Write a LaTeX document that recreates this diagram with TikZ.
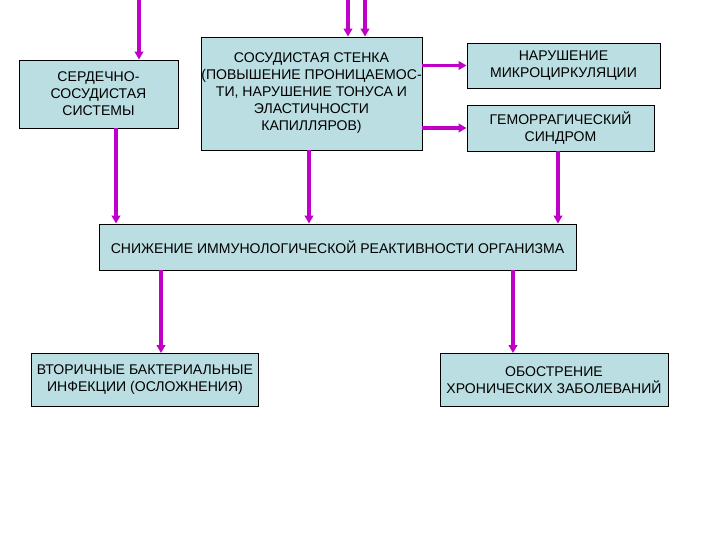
\documentclass[tikz,border=0pt]{standalone}
\usepackage{fontspec}
\setmainfont{Liberation Sans}
\usetikzlibrary{arrows.meta,positioning}
\definecolor{boxfill}{RGB}{186,222,226}
\definecolor{arrcol}{RGB}{190,0,200}

\begin{document}
\begin{tikzpicture}[
            x=0.03cm, y=-0.03cm,
            font=\fontsize{12}{14.5}\selectfont,
            box/.style={draw, thick, fill=boxfill, align=center, inner sep=0pt},
            arrow/.style={-{Triangle[length=2.4mm, width=2.6mm]}, line width=3pt, arrcol}
        ]
            \useasboundingbox (0,0) rectangle (720,540);

            \node[box, minimum width=159*0.03cm, minimum height=68*0.03cm] (cvs) at (98.5,94) {СЕРДЕЧНО-\\СОСУДИСТАЯ\\СИСТЕМЫ};
            \node[box, minimum width=221*0.03cm, minimum height=113*0.03cm] (wall) at (311.5,93.5) {СОСУДИСТАЯ СТЕНКА\\(ПОВЫШЕНИЕ ПРОНИЦАЕМОС-\\ТИ, НАРУШЕНИЕ ТОНУСА И\\ЭЛАСТИЧНОСТИ\\КАПИЛЛЯРОВ)};
            \node[box, minimum width=193*0.03cm, minimum height=45*0.03cm] (micro) at (563.5,65.5) {НАРУШЕНИЕ\\МИКРОЦИРКУЛЯЦИИ};
            \node[box, minimum width=187*0.03cm, minimum height=46*0.03cm] (hemo) at (560.5,128) {ГЕМОРРАГИЧЕСКИЙ\\СИНДРОМ};
            \node[box, minimum width=477*0.03cm, minimum height=46*0.03cm] (immun) at (337.5,247) {СНИЖЕНИЕ ИММУНОЛОГИЧЕСКОЙ РЕАКТИВНОСТИ ОРГАНИЗМА};
            \node[box, minimum width=227*0.03cm, minimum height=53*0.03cm] (infect) at (145,380) {ВТОРИЧНЫЕ БАКТЕРИАЛЬНЫЕ\\ИНФЕКЦИИ (ОСЛОЖНЕНИЯ)};
            \node[box, minimum width=228*0.03cm, minimum height=53*0.03cm] (chron) at (554,380) {ОБОСТРЕНИЕ\\ХРОНИЧЕСКИХ ЗАБОЛЕВАНИЙ};

            % free ends at the top edge
            \coordinate (in1) at (139,0);
            \coordinate (in2) at (348,0);
            \coordinate (in3) at (365,0);
            % columns of the downward arrows
            \coordinate (c1) at (116,0);
            \coordinate (c2) at (309,0);
            \coordinate (c3) at (558,0);
            \coordinate (c4) at (161,0);
            \coordinate (c5) at (513,0);

            \draw[arrow] (in1) -- (in1 |- cvs.north);
            \draw[arrow] (in2) -- (in2 |- wall.north);
            \draw[arrow] (in3) -- (in3 |- wall.north);
            \draw[arrow] (wall.east |- micro.west) -- (micro.west);
            \draw[arrow] (wall.east |- hemo.west) -- (hemo.west);
            \draw[arrow] (cvs.south -| c1) -- (immun.north -| c1);
            \draw[arrow] (wall.south -| c2) -- (immun.north -| c2);
            \draw[arrow] (hemo.south -| c3) -- (immun.north -| c3);
            \draw[arrow] (immun.south -| c4) -- (infect.north -| c4);
            \draw[arrow] (immun.south -| c5) -- (chron.north -| c5);
        \end{tikzpicture}
\end{document}
